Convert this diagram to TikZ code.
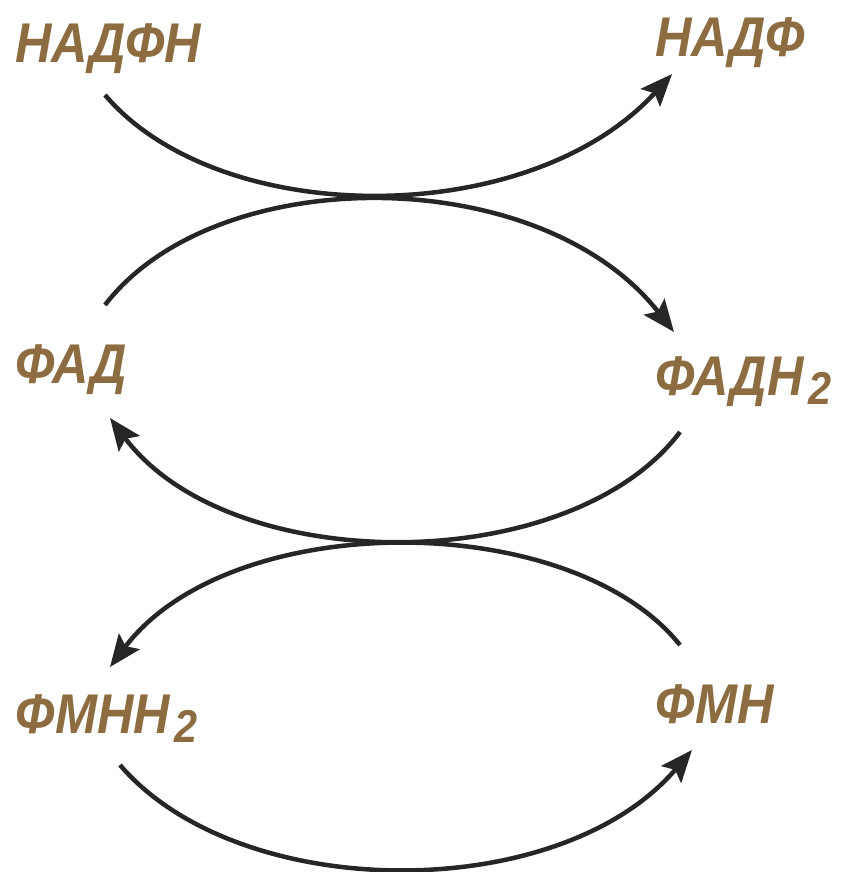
\documentclass[tikz,border=0pt]{standalone}
\usepackage{fontspec}
\newfontfamily\lblfont[FakeStretch=0.9]{Liberation Sans}
\usetikzlibrary{arrows.meta}
\definecolor{lblbrown}{RGB}{140,108,64}
\definecolor{arrowgray}{RGB}{38,38,38}
\newcommand{\subtwo}{\hspace{5pt}\raisebox{-9pt}{\fontsize{46}{46}\selectfont 2}}
\begin{document}
\begin{tikzpicture}[x=1pt,y=-1pt,
  lbl/.style={inner sep=0pt,anchor=base west,text=lblbrown,
    font=\lblfont\bfseries\itshape\fontsize{56}{56}\selectfont},
  conv/.style={draw=arrowgray,line width=4.5pt,
    -{Stealth[length=32pt,width=26pt,inset=6pt]}}]
\useasboundingbox (0,0) rectangle (847,872);
\node[lbl] (nadph) at (15,63) {НАДФН};
\node[lbl] (nadp) at (655,57) {НАДФ};
\node[lbl] (fad) at (15,383) {ФАД};
\node[lbl] (fadh) at (655,395) {ФАДН\subtwo};
\node[lbl] (fmnh) at (15,733) {ФМНН\subtwo};
\node[lbl] (fmn) at (655,723) {ФМН};
% connector end points
\coordinate (a1s) at (105,95);
\coordinate (a1e) at (672,74);
\coordinate (a2s) at (105,305);
\coordinate (a2e) at (674,332);
\coordinate (a3s) at (680,432);
\coordinate (a3e) at (110,418);
\coordinate (a4s) at (680,645);
\coordinate (a4e) at (110,667);
\coordinate (a5s) at (120,765);
\coordinate (a5e) at (692,750);
\draw[conv] (a1s) .. controls (220,230) and (530,230) .. (a1e);
\draw[conv] (a2s) .. controls (215,161) and (540,161) .. (a2e);
\draw[conv] (a3s) .. controls (570,578) and (230,578) .. (a3e);
\draw[conv] (a4s) .. controls (570,508) and (230,508) .. (a4e);
\draw[conv] (a5s) .. controls (240,905) and (560,905) .. (a5e);
\end{tikzpicture}
\end{document}
